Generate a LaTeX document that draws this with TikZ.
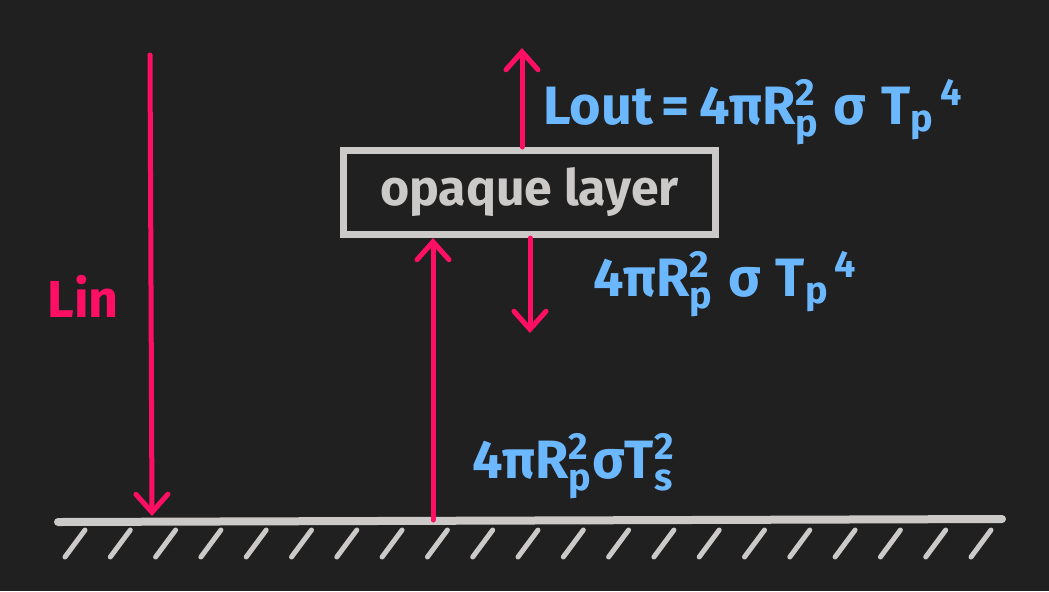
\documentclass[tikz,border=0pt]{standalone}
\usepackage{amsmath}
\usepackage{fontspec}
\setmainfont{Fira Sans}
\usetikzlibrary{arrows.meta}

\definecolor{bgdark}{HTML}{212020}
\definecolor{fluxred}{HTML}{FF0F64}
\definecolor{eqblue}{HTML}{6CB8FF}
\definecolor{linegray}{HTML}{CBCAC8}

% stacked sub- and superscript in text font
\newcommand{\subsup}[2]{$_{\text{#1}}^{\text{#2}}$}
% subscript, then superscript after it
\newcommand{\subthen}[2]{$_{\text{#1}}$\kern3pt$^{\text{#2}}$}

\begin{document}
\begin{tikzpicture}[x=0.5pt, y=-0.5pt,
  flux/.style={fluxred, line width=2.5pt, line cap=round,
    -{Straight Barb[length=9pt, width=16pt, line cap=round]}},
  eq/.style={eqblue, font=\fontsize{27}{32}\selectfont\bfseries, inner sep=0pt, anchor=base west},
  hatch/.style={linegray, line width=2.5pt, line cap=round}]
  % Background
  \fill[bgdark] (0,0) rectangle (1049,591);

  % Ground with hatching
  \coordinate (gl) at (58,522);
  \coordinate (gr) at (1002,519);
  \draw[linegray, line width=4pt, line cap=round] (gl) -- (gr);
  \foreach \i in {0,...,20}
    \draw[hatch] ({85+45.3*\i},530) -- ++(-20,27);

  % Opaque layer
  \node[draw=linegray, line width=3.5pt, minimum width=186pt, minimum height=42pt,
        text=linegray, font=\fontsize{25}{30}\selectfont\bfseries] (box) at (529.5,192.5) {opaque layer};

  % Incoming flux
  \coordinate (lintop) at (150,55);
  \coordinate (linbot) at (152,516);
  \draw[flux] (lintop) -- (linbot);
  \node[fluxred, font=\fontsize{26}{30}\selectfont\bfseries, inner sep=0pt, anchor=base west] (lin) at (47,317) {Lin};

  % Surface emission
  \coordinate (surf) at (433,520);
  \draw[flux] (surf) -- (surf |- box.south);
  \node[eq] (surfeq) at (472,478) {4πR\subsup{p}{2}σT\subsup{s}{2}};

  % Layer emission, up and down
  \coordinate (outtop) at (522,48);
  \draw[flux] (outtop |- box.north) -- (outtop);
  \node[eq] (lout) at (543,124) {Lout\,=\,4πR\subsup{p}{2}\;σ\;T\subthen{p}{4}};

  \coordinate (reemit) at (530,333);
  \draw[flux] (reemit |- box.south) -- (reemit);
  \node[eq] (downeq) at (593,296) {4πR\subsup{p}{2}\;σ\;T\subthen{p}{4}};
\end{tikzpicture}
\end{document}
